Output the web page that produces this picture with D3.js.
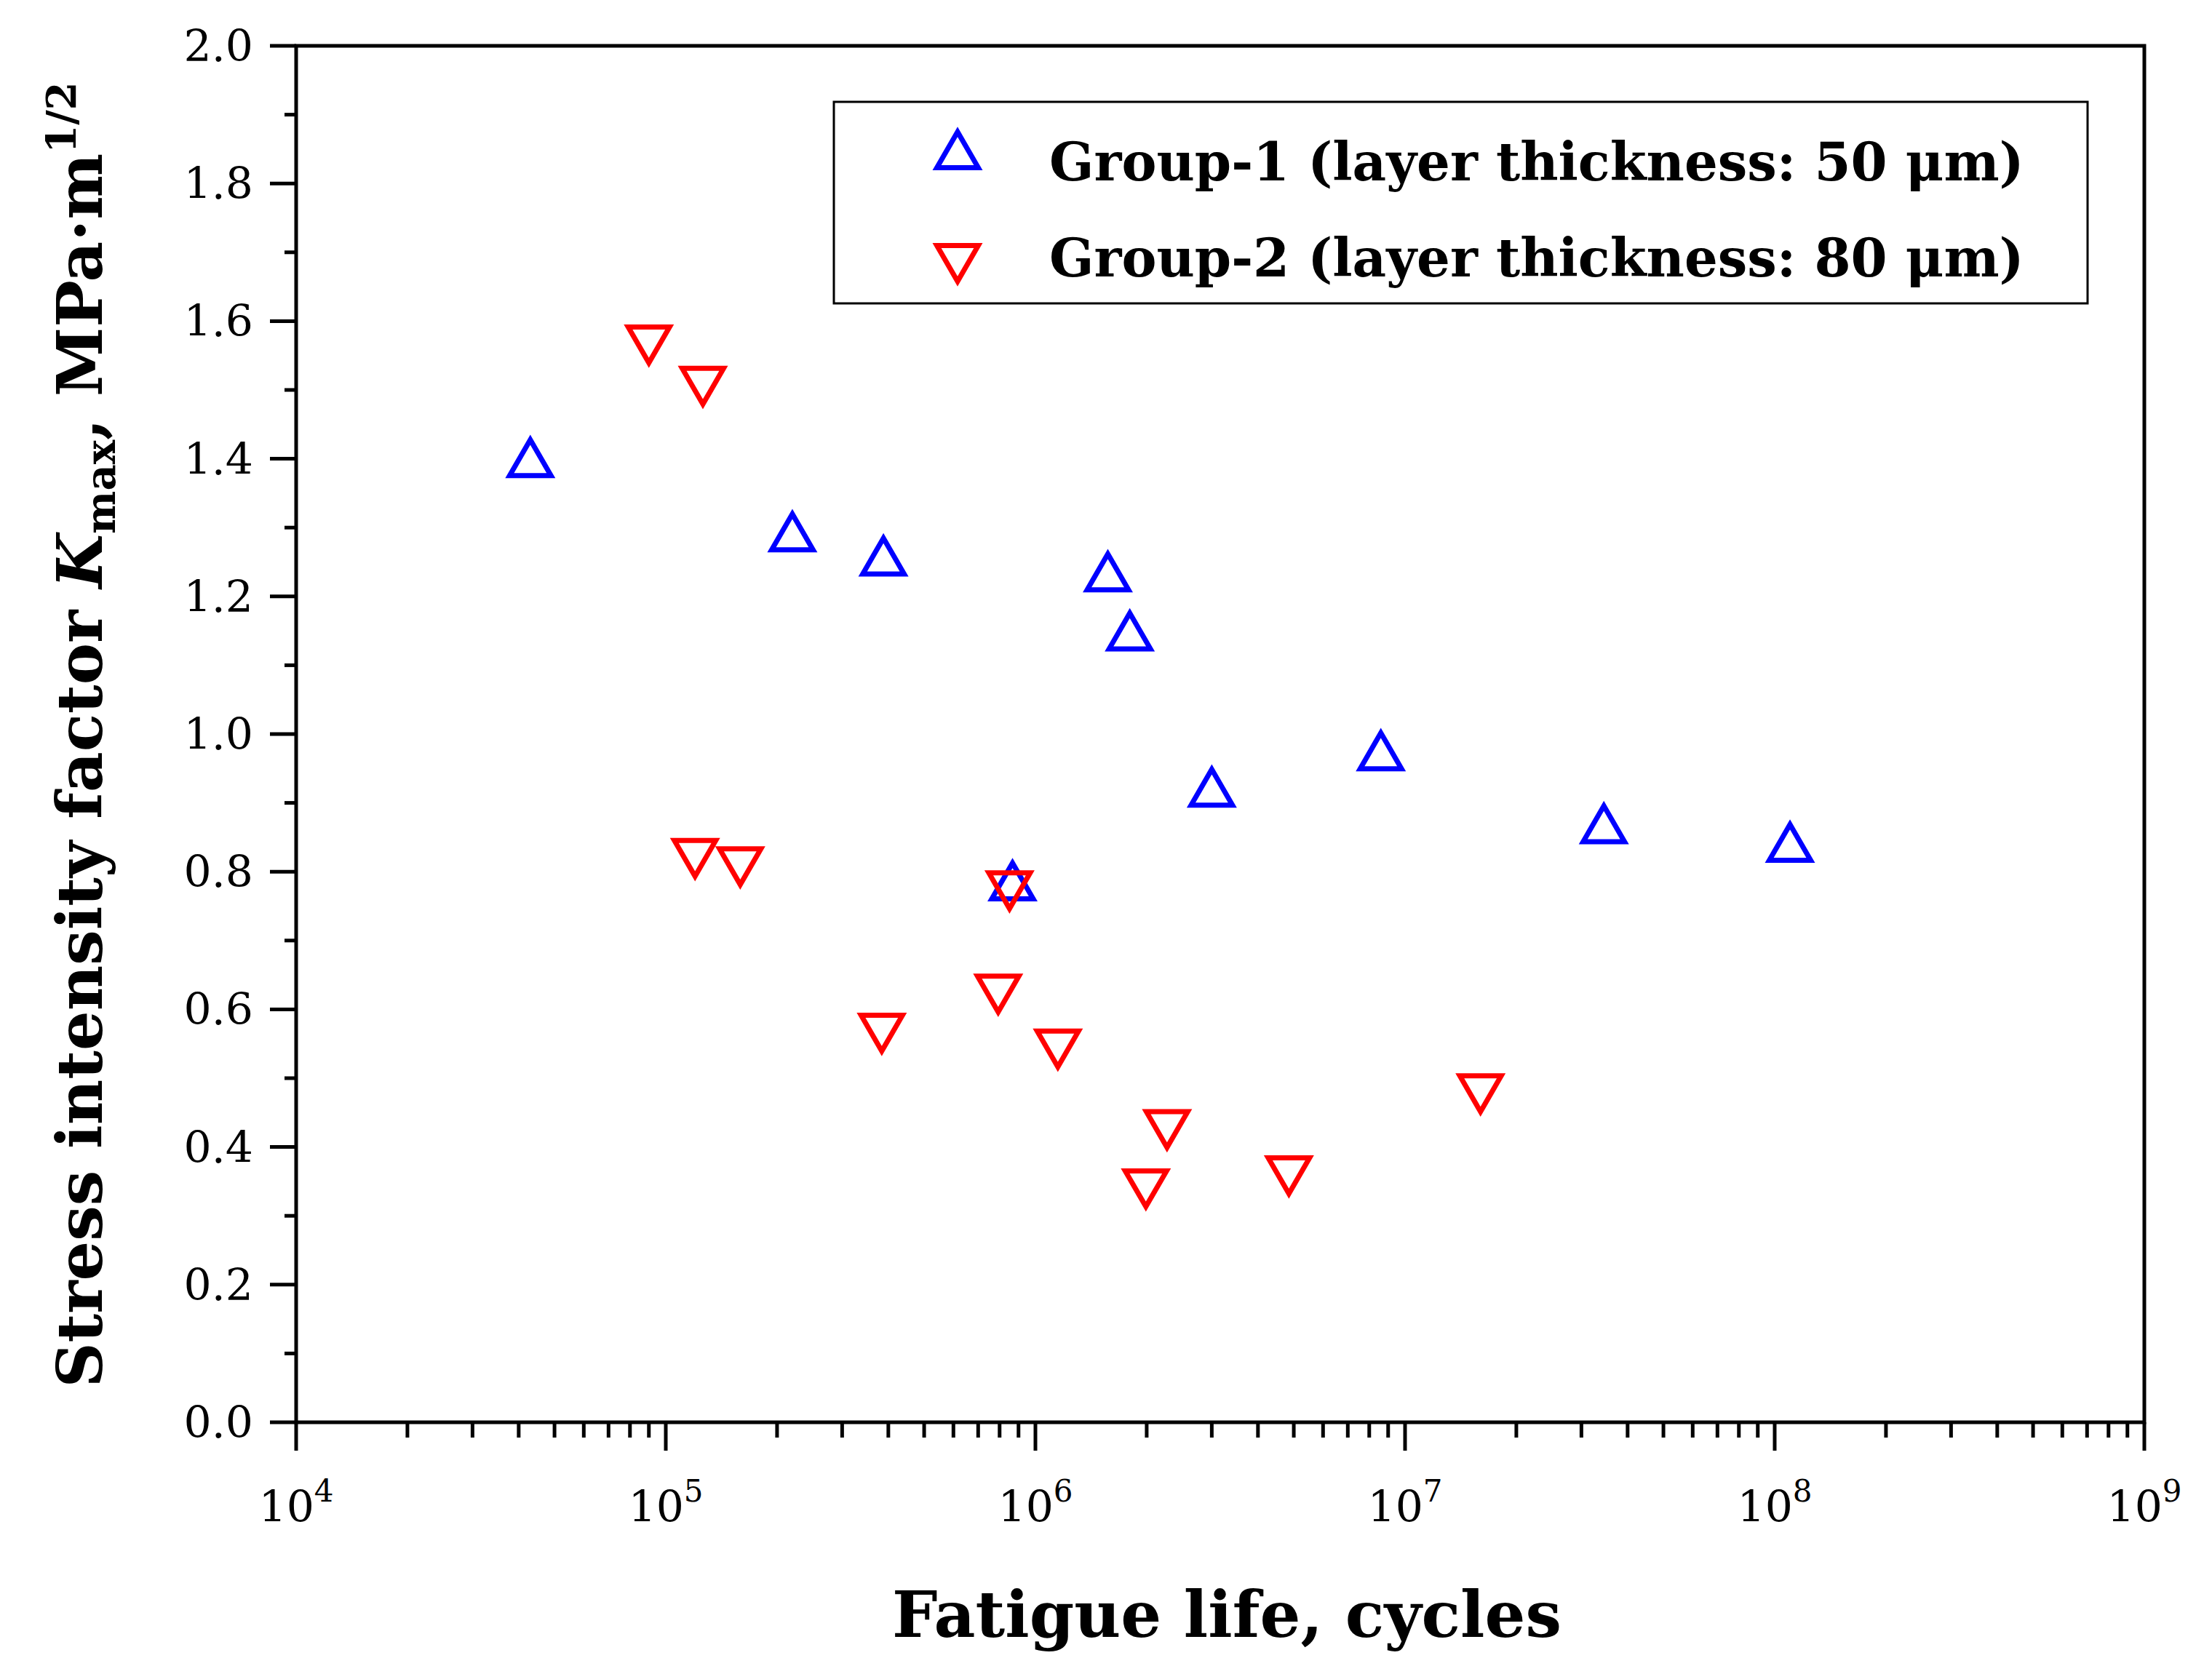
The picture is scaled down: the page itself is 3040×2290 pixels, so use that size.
<!DOCTYPE html><html><head><meta charset="utf-8"><script src="https://cdn.jsdelivr.net/npm/d3@7"></script>
<style>body{margin:0;background:#fff}</style></head><body><svg id="c" width="3040" height="2290"></svg><script>
const g1x=[43000,220000,388000,867000,1.57e6,1.8e6,3.0e6,8.6e6,3.45e7,1.1e8];
const g1y=[1.393,1.285,1.25,0.778,1.227,1.141,0.914,0.967,0.861,0.834];
const g2x=[90000,126000,120000,159000,384000,793000,851000,1.15e6,1.99e6,2.27e6,4.85e6,1.6e7];
const g2y=[1.574,1.514,0.828,0.816,0.574,0.631,0.781,0.551,0.348,0.434,0.367,0.486];
const yTicks=[0,0.2,0.4,0.6,0.8,1.0,1.2,1.4,1.6,1.8,2.0];
const xExp=[4,5,6,7,8,9];
const svg=d3.select("#c");
const L=407,R=2947,T=63,B=1955;
const x=d3.scaleLog().domain([1e4,1e9]).range([L,R]);
const y=d3.scaleLinear().domain([0,2]).range([B,T]);
const serif="'DejaVu Serif','Liberation Serif',serif";
svg.append("rect").attr("x",L).attr("y",T).attr("width",R-L).attr("height",B-T).attr("fill","none").attr("stroke","#000").attr("stroke-width",5);
const minors=[];for(let e=4;e<9;e++)for(let m=2;m<=9;m++)minors.push(m*Math.pow(10,e));
svg.selectAll(".xm").data(minors).enter().append("line").attr("x1",d=>x(d)).attr("x2",d=>x(d)).attr("y1",B).attr("y2",B+21).attr("stroke","#000").attr("stroke-width",5);
svg.selectAll(".xM").data(xExp).enter().append("line").attr("x1",d=>x(Math.pow(10,d))).attr("x2",d=>x(Math.pow(10,d))).attr("y1",B).attr("y2",B+39).attr("stroke","#000").attr("stroke-width",5);
const xl=svg.selectAll(".xl").data(xExp).enter().append("text").attr("x",d=>x(Math.pow(10,d))).attr("y",2092).attr("text-anchor","middle").attr("font-family",serif).attr("font-size",60);
xl.append("tspan").text("10");xl.append("tspan").attr("dy",-28).attr("font-size",42).text(d=>d);
const yMin=d3.range(0.1,2,0.2);
svg.selectAll(".ym").data(yMin).enter().append("line").attr("x1",L).attr("x2",L-16).attr("y1",d=>y(d)).attr("y2",d=>y(d)).attr("stroke","#000").attr("stroke-width",5);
svg.selectAll(".yM").data(yTicks).enter().append("line").attr("x1",L).attr("x2",L-36).attr("y1",d=>y(d)).attr("y2",d=>y(d)).attr("stroke","#000").attr("stroke-width",5);
svg.selectAll(".yl").data(yTicks).enter().append("text").attr("x",348).attr("y",d=>y(d)+21).attr("text-anchor","end").attr("font-family",serif).attr("font-size",60).text(d=>d.toFixed(1));
const up=d3.symbol().type(d3.symbolTriangle).size(1400);
function tri(sx,sy,col,flip){svg.selectAll(null).data(sx).enter().append("path").attr("d",up()).attr("transform",(d,i)=>`translate(${x(d)},${y(sy[i])}) rotate(${flip?180:0})`).attr("fill","none").attr("stroke",col).attr("stroke-width",7);}
tri(g1x,g1y,"#0000ff",false);tri(g2x,g2y,"#ff0000",true);
svg.append("rect").attr("x",1146).attr("y",140).attr("width",1723).attr("height",277).attr("fill","#fff").attr("stroke","#000").attr("stroke-width",3);
svg.append("path").attr("d",up()).attr("transform","translate(1316,214)").attr("fill","none").attr("stroke","#0000ff").attr("stroke-width",7);
svg.append("path").attr("d",up()).attr("transform","translate(1316,354) rotate(180)").attr("fill","none").attr("stroke","#ff0000").attr("stroke-width",7);
svg.append("text").attr("x",1442).attr("y",248).attr("font-family",serif).attr("font-weight","bold").attr("font-size",72).text("Group-1 (layer thickness: 50 μm)");
svg.append("text").attr("x",1442).attr("y",380).attr("font-family",serif).attr("font-weight","bold").attr("font-size",72).text("Group-2 (layer thickness: 80 μm)");
svg.append("text").attr("x",1686).attr("y",2250).attr("text-anchor","middle").attr("font-family",serif).attr("font-weight","bold").attr("font-size",88).text("Fatigue life, cycles");
const yt=svg.append("text").attr("transform","translate(140,1010) rotate(-90)").attr("text-anchor","middle").attr("font-family",serif).attr("font-weight","bold").attr("font-size",86);
yt.append("tspan").text("Stress intensity factor ");
yt.append("tspan").attr("font-style","italic").text("K");
yt.append("tspan").attr("font-size",56).attr("dy",18).text("max");
yt.append("tspan").attr("dy",-18).text(", MPa·m");
yt.append("tspan").attr("font-size",56).attr("dy",-36).text("1/2");
</script></body></html>
